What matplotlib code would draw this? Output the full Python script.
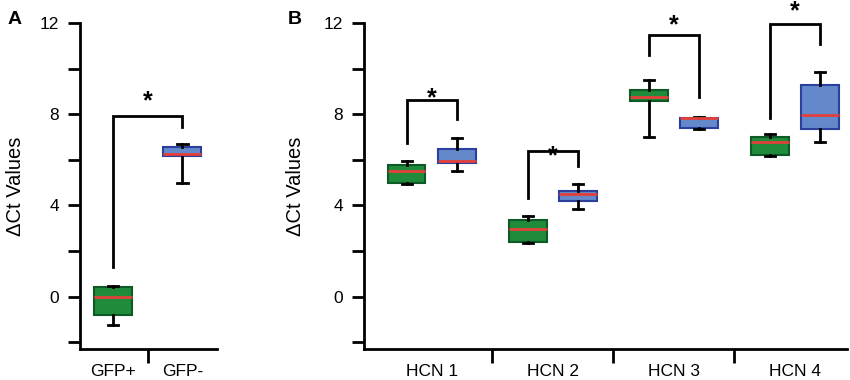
import matplotlib
matplotlib.use("Agg")
import matplotlib.pyplot as plt
import numpy as np

plt.rcParams['font.family'] = ['Liberation Sans', 'DejaVu Sans']

# ---- data ----
# Panel A
a_categories = ["GFP+", "GFP-"]
a_whislo = [-1.23, 4.96]
a_q1 = [-0.79, 6.18]
a_med = [0.0, 6.27]
a_q3 = [0.44, 6.58]
a_whishi = [0.48, 6.70]
a_bracket = [7.9, 1.3, 7.45]   # top, left leg end, right leg end
a_star = 8.85

# Panel B (green = first, blue = second of each pair)
b_categories = ["HCN 1", "HCN 2", "HCN 3", "HCN 4"]
g_whislo = [4.95, 2.37, 7.00, 6.18]
g_q1 = [4.99, 2.41, 8.58, 6.20]
g_med = [5.52, 2.98, 8.76, 6.76]
g_q3 = [5.78, 3.37, 9.07, 6.98]
g_whishi = [5.96, 3.55, 9.50, 7.14]

bl_whislo = [5.52, 3.82, 7.33, 6.76]
bl_q1 = [5.87, 4.20, 7.40, 7.36]
bl_med = [5.96, 4.51, 7.82, 7.97]
bl_q3 = [6.48, 4.64, 7.84, 9.29]
bl_whishi = [6.96, 4.95, 7.88, 9.86]

br_top = [8.63, 6.40, 11.48, 11.97]
br_left = [6.74, 4.34, 10.60, 7.83]
br_right = [7.80, 5.74, 8.77, 11.08]
star_y = [8.98, 6.44, 12.2, 12.8]

GREEN, GREEN_E = "#1f8b3b", "#0e5a26"
BLUE, BLUE_E = "#6489cb", "#2b3f9e"
MED = "#e2403a"

fig = plt.figure(figsize=(8.5, 3.8), dpi=100)
W, H = 850, 380


def px_axes(l, r, t, b):
    return fig.add_axes([l / W, (H - b) / H, (r - l) / W, (b - t) / H])


def stats(wl, q1, md, q3, wh):
    return [dict(whislo=a, q1=b, med=c, q3=d, whishi=e, fliers=[])
            for a, b, c, d, e in zip(wl, q1, md, q3, wh)]


def style_axes(ax, ncat, labels):
    for s in ("top", "right"):
        ax.spines[s].set_visible(False)
    for s in ("left", "bottom"):
        ax.spines[s].set_linewidth(2)
    ax.set_ylim(-2.3, 12)
    ax.set_yticks([0, 4, 8, 12])
    ax.set_yticks([-2, 2, 6, 10], minor=True)
    ax.tick_params(axis="y", which="both", length=9, width=2, labelsize=12.5, pad=6)
    ax.set_xticks(np.arange(ncat))
    ax.set_xticklabels(labels)
    ax.set_xticks(np.arange(ncat - 1) + 0.5, minor=True)
    ax.tick_params(axis="x", which="major", length=0, labelsize=12.5, pad=11)
    ax.tick_params(axis="x", which="minor", length=10, width=2)
    ax.set_ylabel("ΔCt Values", fontsize=14.5)


def draw_box(ax, st, pos, width, cap, fc, ec):
    ax.bxp(st, positions=pos, widths=width, capwidths=cap, patch_artist=True,
           showfliers=False,
           boxprops=dict(facecolor=fc, edgecolor=ec, linewidth=1.5),
           whiskerprops=dict(color="black", linewidth=2),
           capprops=dict(color="black", linewidth=2),
           medianprops=dict(color=MED, linewidth=2), manage_ticks=False)


def bracket(ax, x1, x2, top, l, r, sy):
    ax.plot([x1, x1, x2, x2], [l, top, top, r], color="black", lw=2,
            clip_on=False, solid_joinstyle="miter")
    ax.text((x1 + x2) / 2, sy, "*", ha="center", va="center", fontsize=18,
            fontweight="bold", clip_on=False)


# ---- Panel A ----
axA = px_axes(80, 217, 23, 349)
axA.set_xlim(-0.48, 1.5)
style_axes(axA, 2, a_categories)
draw_box(axA, stats(a_whislo, a_q1, a_med, a_q3, a_whishi)[:1], [0], 0.55, 0.15, GREEN, GREEN_E)
draw_box(axA, stats(a_whislo, a_q1, a_med, a_q3, a_whishi)[1:], [1], 0.55, 0.15, BLUE, BLUE_E)
bracket(axA, 0, 1, a_bracket[0], a_bracket[1], a_bracket[2], a_star - 0.3)
axA.yaxis.set_label_coords(-0.40, 0.5)
fig.text(8 / W, 1 - 19 / H, "A", fontsize=14, fontweight="bold", va="center")

# ---- Panel B ----
axB = px_axes(364, 847, 23, 349)
axB.set_xlim(-0.56, 3.43)
style_axes(axB, 4, b_categories)
x = np.arange(4)
off = 0.207
draw_box(axB, stats(g_whislo, g_q1, g_med, g_q3, g_whishi), x - off, 0.31, 0.085, GREEN, GREEN_E)
draw_box(axB, stats(bl_whislo, bl_q1, bl_med, bl_q3, bl_whishi), x + off, 0.31, 0.085, BLUE, BLUE_E)
for i in range(4):
    bracket(axB, x[i] - off, x[i] + off, br_top[i], br_left[i], br_right[i], star_y[i] - 0.3)
axB.yaxis.set_label_coords(-0.122, 0.5)
fig.text(288 / W, 1 - 19 / H, "B", fontsize=14, fontweight="bold", va="center")

fig.savefig("out.png", dpi=100)
